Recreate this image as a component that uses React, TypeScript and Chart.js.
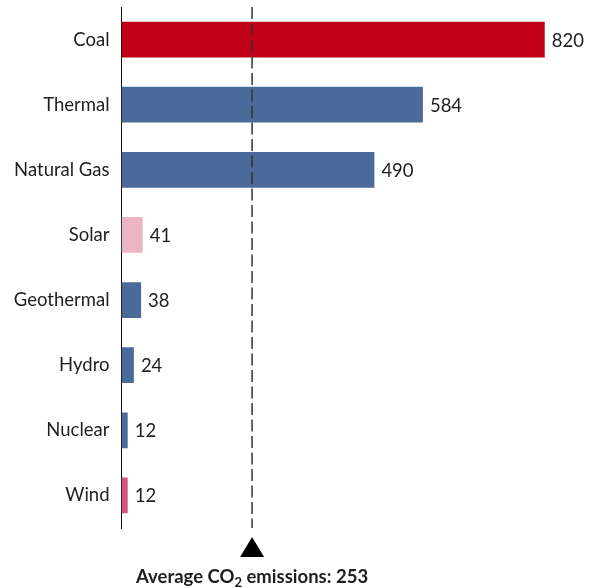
import React, { useEffect, useRef } from "react";
import { Chart, registerables } from "chart.js";

Chart.register(...registerables);

// Lifecycle CO2 emissions by generation source (g CO2 / kWh)
const sources = ["Coal", "Thermal", "Natural Gas", "Solar", "Geothermal", "Hydro", "Nuclear", "Wind"];
const emissions = [820, 584, 490, 41, 38, 24, 12, 12];
const barColors = ["#c00017", "#4a6b9a", "#4a6b9a", "#ecb5c4", "#4a6b9a", "#4a6b9a", "#4a6b9a", "#d4567e"];
const averageEmissions = 253;
const axisMax = 900;

const FONT = "Lato, 'DejaVu Sans', sans-serif";
const TEXT_COLOR = "#1e1e1e";

// Writes each bar's value just past its end
const valueLabels = {
  id: "valueLabels",
  afterDatasetsDraw(chart: any) {
    const { ctx } = chart;
    const meta = chart.getDatasetMeta(0);
    const data = chart.data.datasets[0].data as number[];
    ctx.save();
    ctx.font = `18.5px ${FONT}`;
    ctx.fillStyle = TEXT_COLOR;
    ctx.textAlign = "left";
    ctx.textBaseline = "middle";
    meta.data.forEach((bar: any, i: number) => {
      ctx.fillText(String(data[i]), bar.x + 7, bar.y + 1);
    });
    ctx.restore();
  },
};

// Dashed average marker with a triangle and caption underneath
const averageMarker = {
  id: "averageMarker",
  afterDatasetsDraw(chart: any) {
    const { ctx, chartArea } = chart;
    const x = chart.scales.x.getPixelForValue(averageEmissions);
    ctx.save();
    ctx.strokeStyle = "#333333";
    ctx.lineWidth = 1.5;
    ctx.setLineDash([12, 4.5]);
    ctx.beginPath();
    ctx.moveTo(x, chartArea.top);
    ctx.lineTo(x, chartArea.bottom);
    ctx.stroke();
    ctx.setLineDash([]);

    const tipY = chartArea.bottom + 9;
    ctx.fillStyle = "#000000";
    ctx.beginPath();
    ctx.moveTo(x, tipY);
    ctx.lineTo(x + 12, tipY + 20);
    ctx.lineTo(x - 12, tipY + 20);
    ctx.closePath();
    ctx.fill();

    const baseline = tipY + 46;
    const mainFont = `bold 18.5px ${FONT}`;
    const subFont = `bold 13px ${FONT}`;
    const partA = "Average CO";
    const partSub = "2";
    const partB = ` emissions: ${averageEmissions}`;
    ctx.font = mainFont;
    const wA = ctx.measureText(partA).width;
    const wB = ctx.measureText(partB).width;
    ctx.font = subFont;
    const wS = ctx.measureText(partSub).width;
    let cx = x - (wA + wS + wB) / 2;
    ctx.fillStyle = TEXT_COLOR;
    ctx.textAlign = "left";
    ctx.textBaseline = "alphabetic";
    ctx.font = mainFont;
    ctx.fillText(partA, cx, baseline);
    cx += wA;
    ctx.font = subFont;
    ctx.fillText(partSub, cx, baseline + 4);
    cx += wS;
    ctx.font = mainFont;
    ctx.fillText(partB, cx, baseline);
    ctx.restore();
  },
};

export default function App() {
  const canvasRef = useRef<HTMLCanvasElement | null>(null);

  useEffect(() => {
    const canvas = canvasRef.current;
    if (!canvas) return;
    const chart = new Chart(canvas, {
      type: "bar",
      data: {
        labels: sources,
        datasets: [
          {
            data: emissions,
            backgroundColor: barColors,
            borderWidth: 0,
            barPercentage: 0.55,
            categoryPercentage: 1,
          },
        ],
      },
      options: {
        indexAxis: "y",
        responsive: false,
        maintainAspectRatio: false,
        animation: false,
        layout: { padding: { left: 0, top: 7, right: 7, bottom: 60 } },
        plugins: {
          legend: { display: false },
          tooltip: { enabled: false },
        },
        scales: {
          x: {
            display: false,
            min: 0,
            max: axisMax,
          },
          y: {
            afterFit(scale: any) {
              scale.width = 121.5;
              scale.paddingTop = 0;
              scale.paddingBottom = 0;
            },
            grid: { display: false, drawTicks: false },
            border: { display: true, color: "#111111", width: 1 },
            ticks: {
              padding: 12,
              color: TEXT_COLOR,
              font: { family: FONT, size: 18.5 },
            },
          },
        },
      },
      plugins: [valueLabels, averageMarker],
    });
    return () => chart.destroy();
  }, []);

  return (
    <div style={{ position: "fixed", left: 0, top: 0, width: 593, height: 588, background: "#ffffff" }}>
      <canvas ref={canvasRef} width={593} height={588} style={{ display: "block" }} />
    </div>
  );
}
